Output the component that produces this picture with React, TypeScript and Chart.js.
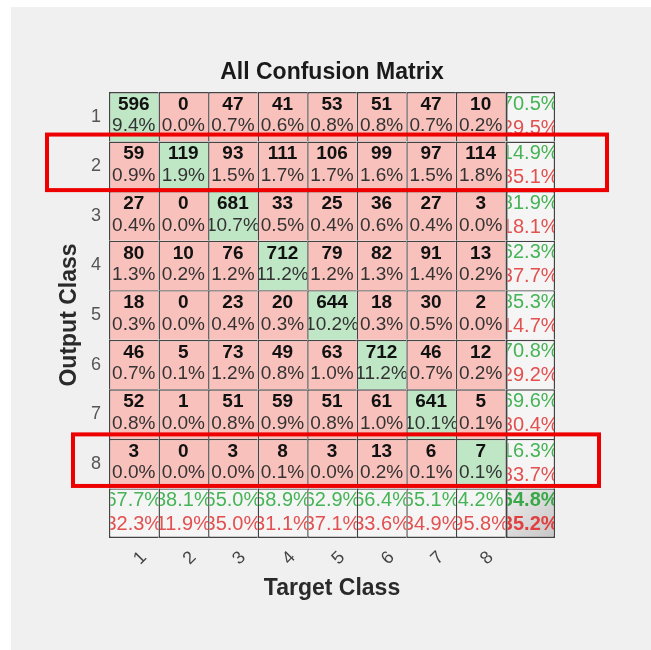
import React, { useEffect, useRef } from 'react';
import { Chart, registerables } from 'chart.js';

Chart.register(...registerables);

// Class names along each axis
const targetClasses = ['1', '2', '3', '4', '5', '6', '7', '8'];
const outputClasses = ['1', '2', '3', '4', '5', '6', '7', '8'];

// Counts per output class (row), one entry per target class (column)
const outputRow1 = [596, 0, 47, 41, 53, 51, 47, 10];
const outputRow2 = [59, 119, 93, 111, 106, 99, 97, 114];
const outputRow3 = [27, 0, 681, 33, 25, 36, 27, 3];
const outputRow4 = [80, 10, 76, 712, 79, 82, 91, 13];
const outputRow5 = [18, 0, 23, 20, 644, 18, 30, 2];
const outputRow6 = [46, 5, 73, 49, 63, 712, 46, 12];
const outputRow7 = [52, 1, 51, 59, 51, 61, 641, 5];
const outputRow8 = [3, 0, 3, 8, 3, 13, 6, 7];

const confusionRows = [
  outputRow1, outputRow2, outputRow3, outputRow4,
  outputRow5, outputRow6, outputRow7, outputRow8,
];

// Output classes outlined with a red frame
const highlightedRows = [2, 8];

const FONT = "'Liberation Sans', Arial, Helvetica, sans-serif";

const COLORS = {
  page: '#ffffff',
  panel: '#f0f0f0',
  hit: '#bfe6c5',
  miss: '#f9c1bc',
  summary: '#f5f5f5',
  total: '#d8d8d8',
  border: '#444444',
  count: '#111111',
  percent: '#333333',
  good: '#46b456',
  bad: '#e25050',
  goodBold: '#38a848',
  badBold: '#e04040',
  frame: '#ee0000',
};

// Frame extents around highlighted rows (pixels beyond the row edges)
const frameStyle: Record<number, { left: number; right: number; above: number; below: number }> = {
  2: { left: 47, right: 607, above: 7, below: -1 },
  8: { left: 73, right: 599, above: 4.5, below: -2.5 },
};

const n = targetClasses.length;
const rowSums = confusionRows.map((r) => r.reduce((a, b) => a + b, 0));
const colSums = targetClasses.map((_, c) => confusionRows.reduce((a, r) => a + r[c], 0));
const total = rowSums.reduce((a, b) => a + b, 0);
const correct = confusionRows.reduce((a, r, i) => a + r[i], 0);

const pct = (v: number, of: number) => ((v / of) * 100).toFixed(1) + '%';

type Kind = 'hit' | 'miss' | 'summary' | 'total';
const kindOf = (r: number, c: number): Kind => {
  if (r < n && c < n) return r === c ? 'hit' : 'miss';
  if (r === n && c === n) return 'total';
  return 'summary';
};

const cellText = {
  id: 'cellText',
  afterDatasetsDraw(chart: any) {
    const ctx: CanvasRenderingContext2D = chart.ctx;
    chart.data.datasets.forEach((_: any, r: number) => {
      const meta = chart.getDatasetMeta(r);
      meta.data.forEach((el: any, c: number) => {
        const { x, y, base, width } = el.getProps(['x', 'y', 'base', 'width'], true);
        const top = Math.min(y, base);
        const h = Math.abs(base - y);
        const left = x - width / 2;
        const kind = kindOf(r, c);
        ctx.save();
        ctx.beginPath();
        ctx.rect(left + (c === n ? 2 : 1.4), top + 1.4, width - (c === n ? 3 : 1.4), h - 1.4);
        ctx.clip();
        ctx.textAlign = 'center';
        ctx.textBaseline = 'middle';
        if (kind === 'hit' || kind === 'miss') {
          const v = confusionRows[r][c];
          ctx.font = `bold 19px ${FONT}`;
          ctx.fillStyle = COLORS.count;
          ctx.fillText(String(v), x, top + h * 0.255);
          ctx.font = `19px ${FONT}`;
          ctx.fillStyle = COLORS.percent;
          ctx.fillText(pct(v, total), x, top + h * 0.69);
        } else {
          let good: number, of: number;
          if (kind === 'total') {
            good = correct;
            of = total;
          } else if (c === n) {
            good = confusionRows[r][r];
            of = rowSums[r];
          } else {
            good = confusionRows[c][c];
            of = colSums[c];
          }
          const bold = kind === 'total' ? 'bold ' : '';
          ctx.font = `${bold}20px ${FONT}`;
          ctx.fillStyle = kind === 'total' ? COLORS.goodBold : COLORS.good;
          ctx.fillText(pct(good, of), x, top + h * 0.245);
          ctx.fillStyle = kind === 'total' ? COLORS.badBold : COLORS.bad;
          ctx.fillText(pct(of - good, of), x, top + h * 0.73);
        }
        ctx.restore();
      });
    });
  },
};

const panelBackground = {
  id: 'panelBackground',
  beforeDraw(chart: any) {
    const ctx: CanvasRenderingContext2D = chart.ctx;
    ctx.save();
    ctx.fillStyle = COLORS.page;
    ctx.fillRect(0, 0, chart.width, chart.height);
    ctx.fillStyle = COLORS.panel;
    ctx.fillRect(11, 7, chart.width - 11, chart.height - 7);
    ctx.restore();
  },
};

const rowFrames = {
  id: 'rowFrames',
  afterDraw(chart: any) {
    const ctx: CanvasRenderingContext2D = chart.ctx;
    const ys = chart.scales.y;
    ctx.save();
    ctx.strokeStyle = COLORS.frame;
    ctx.lineWidth = 4;
    highlightedRows.forEach((row) => {
      const s = frameStyle[row];
      const y1 = ys.getPixelForValue(row - 0.5) - s.above;
      const y2 = ys.getPixelForValue(row + 0.5) + s.below;
      ctx.strokeRect(s.left, y1, s.right - s.left, y2 - y1);
    });
    ctx.restore();
  },
};

// Shaded fill for the overall-accuracy corner cell, laid out from the scales
const cornerFill = (ctx: any, r: number, c: number) => {
  const xs = ctx.chart.scales?.x;
  const ys = ctx.chart.scales?.y;
  if (!xs || !ys) return COLORS.total;
  const cx = xs.getPixelForValue(c);
  const half = xs.width / (2 * (n + 1));
  const top = ys.getPixelForValue(r + 0.5);
  const bottom = ys.getPixelForValue(r + 1.5);
  if (![cx, half, top, bottom].every((v) => isFinite(v))) return COLORS.total;
  const g = ctx.chart.ctx.createLinearGradient(cx - half, top, cx + half, bottom);
  g.addColorStop(0, '#eeeeee');
  g.addColorStop(1, '#c6c6c6');
  return g;
};

export default function App() {
  const canvasRef = useRef<HTMLCanvasElement>(null);

  useEffect(() => {
    const canvas = canvasRef.current;
    if (!canvas) return;

    // one floating-bar dataset per row (8 output classes + summary row)
    const datasets = Array.from({ length: n + 1 }, (_, r) => ({
      label: r < n ? outputClasses[r] : 'summary',
      data: Array.from({ length: n + 1 }, () => [r + 0.5, r + 1.5] as [number, number]),
      backgroundColor: (ctx: any) => {
        const k = kindOf(r, ctx.dataIndex);
        return k === 'total' ? cornerFill(ctx, r, ctx.dataIndex) : COLORS[k];
      },
      borderColor: COLORS.border,
      borderWidth: (ctx: any) => {
        const c = ctx.dataIndex;
        return {
          top: 1.4,
          left: c === n ? 2.2 : 1.4,
          right: c === n ? 1.4 : 0,
          bottom: r === n ? 1.4 : 0,
        };
      },
      borderSkipped: false,
      inflateAmount: 0,
      grouped: false,
      barPercentage: 1,
      categoryPercentage: 1,
    }));

    const titleFont = { family: FONT, size: 23, weight: 'bold' as const, lineHeight: 1.2 };

    const chart = new Chart(canvas, {
      type: 'bar',
      data: { labels: [...targetClasses, ''], datasets: datasets as any },
      options: {
        responsive: false,
        animation: false,
        devicePixelRatio: 1,
        layout: { padding: { left: 0, top: 0, right: 96, bottom: 0 } },
        plugins: {
          legend: { display: false },
          tooltip: { enabled: false },
          title: {
            display: true,
            text: 'All Confusion Matrix',
            fullSize: false,
            color: '#1a1a1a',
            font: titleFont,
            padding: { top: 59, bottom: 5.4 },
          },
        },
        scales: {
          x: {
            type: 'category',
            offset: true,
            border: { display: false },
            grid: { display: false, drawTicks: false },
            ticks: {
              color: '#444444',
              font: { family: FONT, size: 18 },
              minRotation: 45,
              maxRotation: 45,
              autoSkip: false,
              padding: 9,
              labelOffset: 10,
            },
            title: {
              display: true,
              text: 'Target Class',
              color: '#2a2a2a',
              font: titleFont,
              padding: { top: 0, bottom: 48 },
            },
            afterFit: (scale: any) => {
              scale.height = 112;
            },
          },
          y: {
            type: 'linear',
            min: 0.5,
            max: n + 1.5,
            reverse: true,
            border: { display: false },
            grid: { display: false, drawTicks: false },
            afterBuildTicks: (scale: any) => {
              scale.ticks = outputClasses.map((_, i) => ({ value: i + 1 }));
            },
            ticks: {
              color: '#555555',
              font: { family: FONT, size: 18 },
              padding: 8,
              callback: (v: any) => outputClasses[Number(v) - 1] ?? '',
            },
            title: {
              display: true,
              text: 'Output Class',
              color: '#2a2a2a',
              font: titleFont,
              padding: { top: 56, bottom: 0 },
            },
            afterFit: (scale: any) => {
              scale.width = 109;
            },
          },
        },
      },
      plugins: [panelBackground, cellText, rowFrames],
    });

    return () => chart.destroy();
  }, []);

  return (
    <div style={{ position: 'absolute', left: 0, top: 0, width: 651, height: 650 }}>
      <canvas ref={canvasRef} width={651} height={650} style={{ display: 'block' }} />
    </div>
  );
}
